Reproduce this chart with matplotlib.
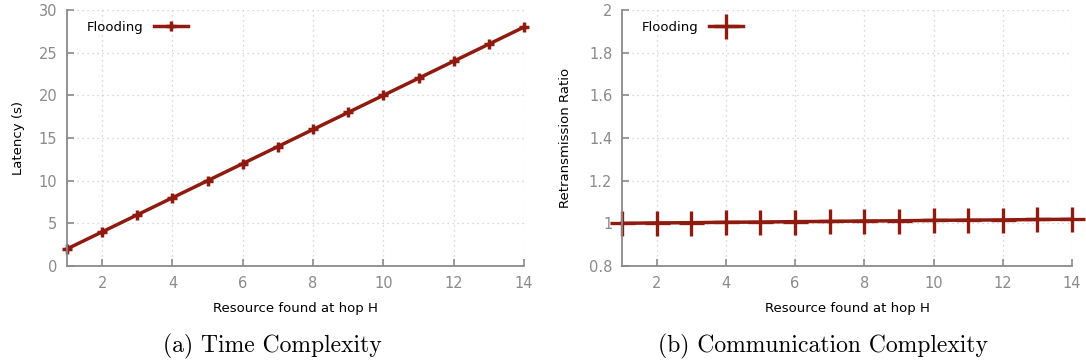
import matplotlib
matplotlib.use('Agg')
import matplotlib.pyplot as plt

# data
hops = [1, 2, 3, 4, 5, 6, 7, 8, 9, 10, 11, 12, 13, 14]
latency = [2, 4, 6, 8, 10, 12, 14, 16, 18, 20, 22, 24, 26, 28]
retrans = [1.000, 1.002, 1.003, 1.005, 1.006, 1.008, 1.009,
           1.011, 1.012, 1.014, 1.015, 1.016, 1.018, 1.019]
xticks = [2, 4, 6, 8, 10, 12, 14]
yticks_a = [0, 5, 10, 15, 20, 25, 30]
yticks_b = [0.8, 1, 1.2, 1.4, 1.6, 1.8, 2]
yticklabels_b = ['0.8', '1', '1.2', '1.4', '1.6', '1.8', '2']

RED = '#8f1a10'
AX = '#8a8a8a'
TICK = '#8a8a8a'

plt.rcParams['font.family'] = ['DejaVu Sans']

fig = plt.figure(figsize=(10.86, 3.62), dpi=100)
ax1 = fig.add_axes([67/1086, 1 - 266/362, 457/1086, 256/362])
ax2 = fig.add_axes([622/1086, 1 - 266/362, 450/1086, 256/362])


def style(ax):
    for s in ['top', 'right']:
        ax.spines[s].set_visible(False)
    for s in ['left', 'bottom']:
        ax.spines[s].set_color(AX)
        ax.spines[s].set_linewidth(1.3)
    ax.tick_params(direction='in', length=5, width=1.2, color=AX,
                   labelcolor=TICK, labelsize=10.5, pad=7)
    ax.grid(True, linestyle=(0, (1, 3)), color='#cccccc', linewidth=0.9)
    ax.set_axisbelow(True)
    ax.set_xlim(1, 14)
    ax.set_xticks(xticks)
    ax.set_xlabel('Resource found at hop H', fontsize=9.5, labelpad=8)


style(ax1)
ax1.plot(hops, latency, color=RED, linewidth=2.5, marker='+',
         markersize=7.5, markeredgewidth=2.5, label='Flooding', clip_on=False)
ax1.set_ylim(0, 30)
ax1.set_yticks(yticks_a)
ax1.set_ylabel('Latency (s)', fontsize=9.5, labelpad=10)
ax1.legend(loc='upper left', markerfirst=False, frameon=False, fontsize=9.5,
           handlelength=2.6, borderaxespad=0.4, bbox_to_anchor=(0.02, 1.0))

style(ax2)
ax2.plot(hops, retrans, color=RED, linewidth=2.5, marker='+',
         markersize=18, markeredgewidth=2.4, label='Flooding', clip_on=False)
ax2.set_ylim(0.8, 2)
ax2.set_yticks(yticks_b)
ax2.set_yticklabels(yticklabels_b)
ax2.set_ylabel('Retransmission Ratio', fontsize=9.5, labelpad=12)
ax2.legend(loc='upper left', markerfirst=False, frameon=False, fontsize=9.5,
           handlelength=2.6, borderaxespad=0.4, bbox_to_anchor=(0.02, 1.0))

fig.text(272/1086, 1 - 346/362, '(a) Time Complexity', family='cmr10',
         fontsize=17, ha='center', va='center')
fig.text(823/1086, 1 - 346/362, '(b) Communication Complexity', family='cmr10',
         fontsize=17, ha='center', va='center')

fig.savefig('out.png', dpi=100)
